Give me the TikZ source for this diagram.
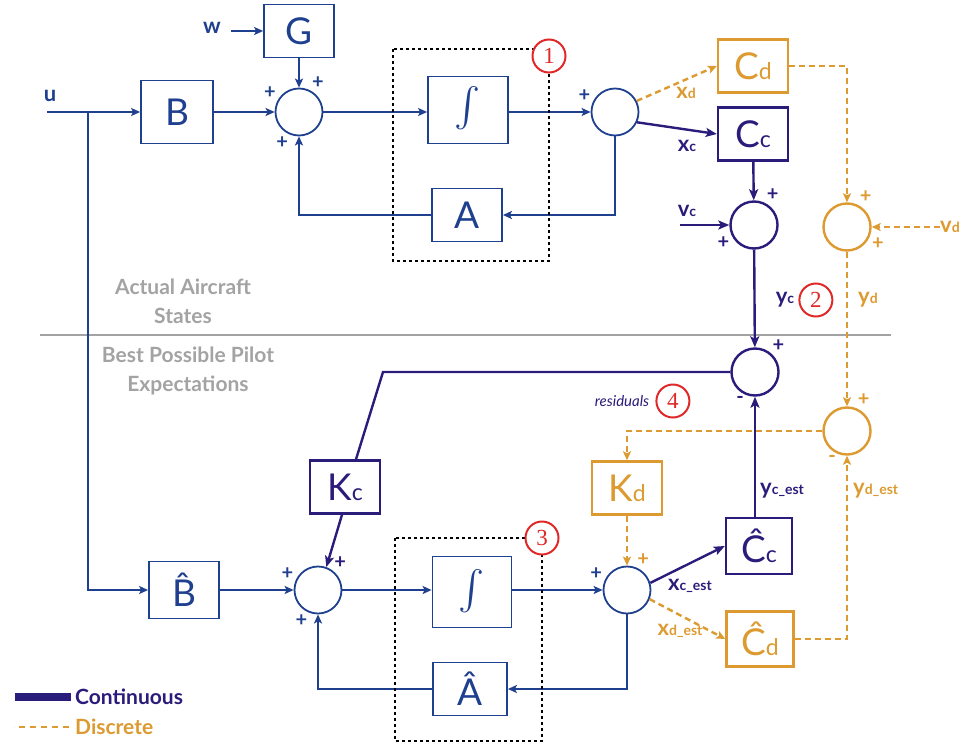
\documentclass[tikz,border=0pt]{standalone}
\usepackage{fontspec}
\setmainfont{Lato}
\newfontfamily\numfont{Liberation Serif}
\usepackage{graphicx}
\usetikzlibrary{positioning,arrows.meta}
\definecolor{cblue}{HTML}{1F3F8F}
\definecolor{cind}{HTML}{2A1C7A}
\definecolor{corg}{HTML}{DC9A30}
\definecolor{cred}{HTML}{E02828}
\definecolor{cgray}{HTML}{A3A3A3}
\newcommand{\blocksub}[2]{#1{\fontsize{23}{23}\selectfont #2}}
\newcommand{\sigsub}[2]{#1{\fontsize{14}{14}\selectfont #2}}
\newcommand{\integ}{\resizebox*{!}{46pt}{$\int$}}
\tikzset{
  blockbox/.style={draw=cblue, line width=1.8pt, text=cblue, inner sep=0pt,
    minimum width=70pt, minimum height=53pt, font=\fontsize{37}{37}\selectfont},
  cbox/.style={blockbox, draw=cind, text=cind, line width=2.4pt},
  dbox/.style={blockbox, draw=corg, text=corg, line width=2.4pt},
  sumnode/.style={circle, draw=cblue, line width=1.8pt, minimum size=47pt, inner sep=0pt},
  csum/.style={sumnode, draw=cind, line width=2.4pt},
  dsum/.style={sumnode, draw=corg, line width=2.4pt},
  sgn/.style={font=\fontsize{20}{20}\selectfont\bfseries, inner sep=1pt, label distance=1pt},
  sgnb/.style={sgn, text=cblue},
  sgnc/.style={sgn, text=cind},
  sgnd/.style={sgn, text=corg},
  sig/.style={font=\fontsize{22}{22}\selectfont\bfseries, inner sep=1pt},
  flowb/.style={-{Stealth[length=9pt,width=8pt,inset=2pt]}, line width=1.8pt, draw=cblue},
  flowc/.style={-{Stealth[length=11pt,width=9pt,inset=2.5pt]}, line width=2.4pt, draw=cind},
  flowd/.style={-{Stealth[length=9pt,width=8pt,inset=2pt]}, line width=2.4pt, draw=corg,
    dash pattern=on 6pt off 4pt},
  stepnum/.style={circle, draw=cred, line width=2pt, text=cred, fill=white,
    minimum size=33pt, inner sep=0pt, font=\numfont\fontsize{23}{23}\selectfont},
  zonetext/.style={text=cgray, align=center, font=\bfseries\fontsize{21}{29}\selectfont},
  sepline/.style={draw=cgray, line width=2.5pt},
  frame/.style={draw=black, line width=2pt, dash pattern=on 3pt off 3pt},
  legtext/.style={font=\bfseries\fontsize{21}{21}\selectfont, inner sep=1pt, anchor=west}
}
\begin{document}
\begin{tikzpicture}[x=1pt, y=-1pt]
  \useasboundingbox (0,0) rectangle (960,744);

  % actual aircraft
  \node[blockbox, minimum width=72pt, minimum height=63pt] (B) at (177,112) {B};
  \node[blockbox] (G) at (299,31) {G};
  \node[sumnode, label={[sgnb]150:+}, label={[sgnb]62:+}, label={[sgnb]-113:+}] (s1) at (299,112) {};
  \node[blockbox, minimum width=80pt, minimum height=67pt] (intA) at (468,110) {\integ};
  \node[blockbox] (A) at (467,215) {A};
  \node[sumnode, label={[sgnb]158:+}] (s2) at (615,112) {};
  \node[dbox] (Cd) at (753,66) {\blocksub{C}{d}};
  \node[cbox] (Cc) at (753,134) {\blocksub{C}{c}};
  \node[csum, label={[sgnc]63:+}, label={[sgnc]-156:+}] (s3) at (754,225) {};
  \node[dsum, label={[sgnd]63:+}, label={[sgnd]-22:+}] (s4) at (847,227) {};

  \coordinate (uin) at (47,112);
  \coordinate (ubr) at (88,112);
  \coordinate (win) at (231,31);
  \coordinate (vcin) at (680,225);
  \coordinate (vdin) at (940,227);
  \node[sig, text=cblue] (ulbl) at (50,96) {u};
  \node[sig, text=cblue] (wlbl) at (212,28) {w};
  \node[sig, text=corg] (xdlbl) at (686,93) {\sigsub{x}{d}};
  \node[sig, text=cind] (xclbl) at (687,146) {\sigsub{x}{c}};
  \node[sig, text=cind] (vclbl) at (687,211) {\sigsub{v}{c}};
  \node[sig, text=corg] (vdlbl) at (950,227) {\sigsub{v}{d}};

  % pilot expectations
  \node[csum, label={[sgnc]50:+}, label={[sgnc]-113:-}] (s5) at (755,372) {};
  \node[dsum, label={[sgnd]68:+}, label={[sgnd]-113:-}] (s6) at (847,431) {};
  \node[cbox] (Kc) at (345,487) {\blocksub{K}{c}};
  \node[dbox] (Kd) at (627,488) {\blocksub{K}{d}};
  \node[cbox, minimum width=66pt, minimum height=56pt] (Chc) at (759,546) {\blocksub{Ĉ}{c}};
  \node[dbox, minimum width=67pt, minimum height=55pt] (Chd) at (760,639) {\blocksub{Ĉ}{d}};
  \node[sumnode, label={[sgnb]159:+}, label={[sgnd]69:+}] (s7) at (627,590) {};
  \node[sumnode, label={[sgnb]158:+}, label={[sgnc]53:+}, label={[sgnb]-112:+}] (s8) at (318,590) {};
  \node[blockbox, minimum height=57pt] (Bh) at (184,590) {B̂};
  \node[blockbox, minimum width=79pt, minimum height=71pt] (intB) at (472,592) {\integ};
  \node[blockbox, minimum width=74pt] (Ah) at (470,689) {Â};
  \coordinate (kcbend) at (383,372);

  \node[sig, text=cind] (yclbl) at (785,300) {\sigsub{y}{c}};
  \node[stepnum, right=3pt of yclbl] (n2) {2};
  \node[sig, text=corg] (ydlbl) at (868,300) {\sigsub{y}{d}};
  \node[inner sep=1pt, text=cind, font=\itshape\fontsize{15}{15}\selectfont] (reslbl) at (622,401) {residuals};
  \node[stepnum, right=5pt of reslbl] (n4) {4};
  \node[sig, text=cind, anchor=west] (ycelbl) at (759,491) {\sigsub{y}{c\_est}};
  \node[sig, text=corg, anchor=west] (ydelbl) at (852,491) {\sigsub{y}{d\_est}};
  \node[sig, text=cind] (xcelbl) at (690,586) {\sigsub{x}{c\_est}};
  \node[sig, text=corg] (xdelbl) at (680,631) {\sigsub{x}{d\_est}};

  \node[zonetext] (actual) at (183,301) {Actual Aircraft\\States};
  \node[zonetext] (pilot) at (188,371) {Best Possible Pilot\\Expectations};
  \coordinate (sepL) at (40,335);
  \coordinate (sepR) at (891,335);
  \draw[sepline] (sepL) -- (sepR);

  % upper connectors
  \draw[flowb] (uin) -- (B.west);
  \draw[flowb] (ubr) |- (Bh.west);
  \draw[flowb] (win) -- (G.west);
  \draw[flowb] (G) -- (s1);
  \draw[flowb] (B) -- (s1);
  \draw[flowb] (s1) -- (s1 -| intA.west);
  \draw[flowb] (intA.east |- s2) -- (s2);
  \draw[flowb] (s2.south) |- (A.east);
  \draw[flowb] (A.west) -| (s1.south);
  \draw[flowc] (s2.-25) -- (Cc.west);
  \draw[flowd] (s2.27) -- (Cd.west);
  \draw[flowd] (Cd.east) -| (s4.north);
  \draw[flowc] (Cc) -- (s3);
  \draw[flowc] (vcin) -- (s3.west);
  \draw[flowd] (vdin) -- (s4.east);
  \draw[flowc] (s3) -- (s5);
  \draw[flowd] (s4) -- (s6);

  % lower connectors
  \draw[line width=2.4pt, draw=cind] (s5.west) -- (kcbend) -- ([xshift=11pt]Kc.north);
  \draw[flowc] ([xshift=-3pt]Kc.south) -- (s8.70);
  \draw[flowc] (s5 |- Chc.north) -- (s5.south);
  \draw[flowd] (s6.west) -| (Kd.north);
  \draw[flowd] (Chd.east) -| (s6.south);
  \draw[flowd] (Kd) -- (s7);
  \draw[flowb] (Bh) -- (s8);
  \draw[flowb] (s8) -- (s8 -| intB.west);
  \draw[flowb] (intB.east |- s7) -- (s7);
  \draw[flowb] (s7.south) |- (Ah.east);
  \draw[flowb] (Ah.west) -| (s8.south);
  \draw[flowc] (s7.17) -- (Chc.west);
  \draw[flowd] (s7.-22) -- (Chd.west);

  % integrator frames
  \draw[frame] (393,49) rectangle (549,261);
  \node[stepnum] (n1) at (549,56) {1};
  \draw[frame] (395,538) rectangle (542,741);
  \node[stepnum] (n3) at (542,538) {3};

  % legend
  \node[legtext, text=cind] (contlbl) at (74,697) {Continuous};
  \draw[draw=cind, line width=8pt] ([xshift=-3pt]contlbl.west) -- ++(-56,0);
  \node[legtext, text=corg] (disclbl) at (74,727) {Discrete};
  \draw[draw=corg, line width=2.4pt, dash pattern=on 6pt off 5pt] ([xshift=-5pt]disclbl.west) -- ++(-55,0);
\end{tikzpicture}
\end{document}
